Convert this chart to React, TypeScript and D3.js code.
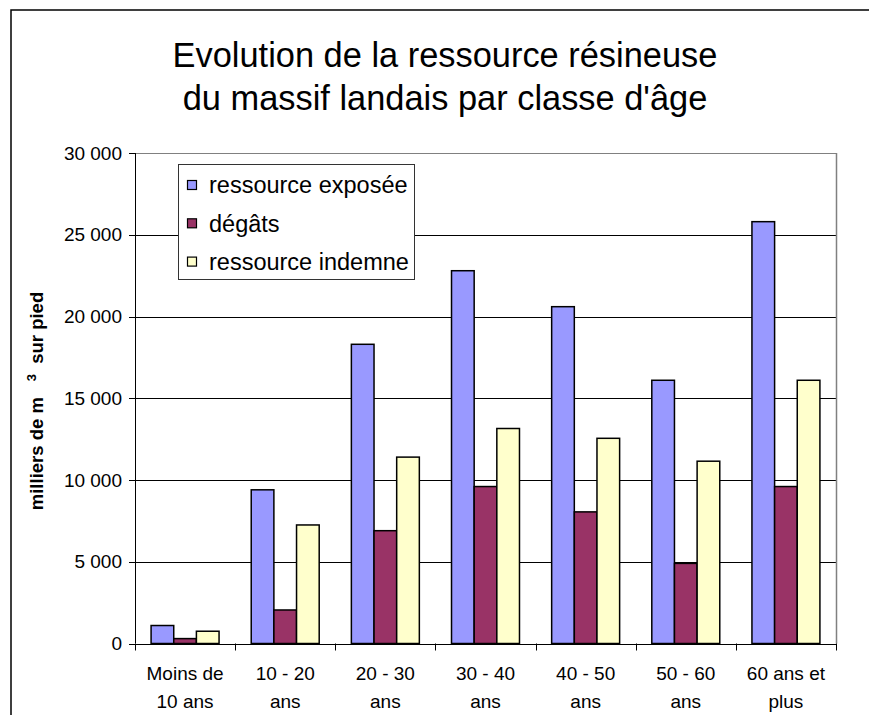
import * as d3 from "d3";

const categories = [
  ["Moins de", "10 ans"],
  ["10 - 20", "ans"],
  ["20 - 30", "ans"],
  ["30 - 40", "ans"],
  ["40 - 50", "ans"],
  ["50 - 60", "ans"],
  ["60 ans et", "plus"],
];

const seriesNames = ["ressource exposée", "dégâts", "ressource indemne"];
const seriesColors = ["#9999FF", "#993366", "#FFFFCC"];

const exposee = [1100, 9400, 18300, 22800, 20600, 16100, 25800];
const degats = [300, 2050, 6900, 9600, 8050, 4900, 9600];
const indemne = [750, 7250, 11400, 13150, 12550, 11150, 16100];

const yTicks = [0, 5000, 10000, 15000, 20000, 25000, 30000];

const width = 869;
const height = 715;
const plot = { left: 135, right: 836, top: 153, bottom: 643.5 };

const font = "'Liberation Sans', Arial, sans-serif";

export default function App() {
  const series = [exposee, degats, indemne];
  const idx = categories.map((_, i) => String(i));

  const x = d3
    .scaleBand()
    .domain(idx)
    .range([plot.left, plot.right])
    .paddingInner(0)
    .paddingOuter(0);
  // bars of one group touch each other, with space left and right
  const inner = d3
    .scaleBand()
    .domain(["0", "1", "2"])
    .range([0, x.bandwidth()])
    .paddingInner(0)
    .paddingOuter(0.71);
  const y = d3.scaleLinear().domain([0, 30000]).range([plot.bottom, plot.top]);

  const fmt = (v: number) => d3.format(",")(v).replace(/,/g, " ");

  return (
    <svg
      width={width}
      height={height}
      style={{ position: "absolute", left: 0, top: 0, background: "#fff" }}
      fontFamily={font}
    >
      <rect x={11} y={10} width={900} height={800} fill="none" stroke="#000" strokeWidth={1.5} />

      <text x={445} y={67} textAnchor="middle" fontSize={34.4}>
        Evolution de la ressource résineuse
      </text>
      <text x={445} y={110} textAnchor="middle" fontSize={34.4}>
        du massif landais par classe d'âge
      </text>

      {/* grid */}
      {yTicks.map((t) => (
        <line
          key={"g" + t}
          x1={plot.left}
          x2={plot.right}
          y1={Math.round(y(t)) + 0.5}
          y2={Math.round(y(t)) + 0.5}
          stroke={t === 30000 ? "#808080" : "#000"}
          strokeWidth={1}
        />
      ))}
      <line
        x1={plot.right + 0.5}
        x2={plot.right + 0.5}
        y1={plot.top}
        y2={plot.bottom}
        stroke="#808080"
        strokeWidth={1.5}
      />

      {/* bars */}
      {series.map((vals, s) =>
        vals.map((v, i) => (
          <rect
            key={s + "-" + i}
            x={(x(String(i)) as number) + (inner(String(s)) as number)}
            y={y(v)}
            width={inner.bandwidth()}
            height={plot.bottom - y(v)}
            fill={seriesColors[s]}
            stroke="#000"
            strokeWidth={1.5}
          />
        ))
      )}

      {/* y axis */}
      <line x1={plot.left + 0.5} x2={plot.left + 0.5} y1={plot.top} y2={plot.bottom} stroke="#000" />
      {yTicks.map((t) => (
        <g key={"y" + t}>
          <line
            x1={plot.left - 6}
            x2={plot.left}
            y1={Math.round(y(t)) + 0.5}
            y2={Math.round(y(t)) + 0.5}
            stroke="#000"
          />
          <text x={122} y={y(t)} dy="0.35em" textAnchor="end" fontSize={19}>
            {fmt(t)}
          </text>
        </g>
      ))}

      {/* x axis */}
      <line x1={plot.left} x2={plot.right} y1={Math.round(plot.bottom) + 0.5} y2={Math.round(plot.bottom) + 0.5} stroke="#000" />
      {idx.concat([String(categories.length)]).map((k) => {
        const xx = k === String(categories.length) ? plot.right : (x(k) as number);
        return (
          <line
            key={"xt" + k}
            x1={Math.round(xx) + 0.5}
            x2={Math.round(xx) + 0.5}
            y1={plot.bottom}
            y2={plot.bottom + 7}
            stroke="#000"
          />
        );
      })}
      {categories.map((c, i) => (
        <text
          key={"xl" + i}
          x={(x(String(i)) as number) + x.bandwidth() / 2}
          y={680}
          textAnchor="middle"
          fontSize={19}
        >
          <tspan x={(x(String(i)) as number) + x.bandwidth() / 2}>{c[0]}</tspan>
          <tspan x={(x(String(i)) as number) + x.bandwidth() / 2} dy={28}>
            {c[1]}
          </tspan>
        </text>
      ))}

      {/* y title */}
      <text
        transform="translate(43,401) rotate(-90)"
        textAnchor="middle"
        fontSize={18.5}
        fontWeight="bold"
      >
        milliers de m
        <tspan dx={16} dy={-7} fontSize={13}>
          3
        </tspan>
        <tspan dx={5} dy={7}>
          {" "}sur pied
        </tspan>
      </text>

      {/* legend */}
      <rect x={178.5} y={164.5} width={236} height={115} fill="#fff" stroke="#333" strokeWidth={1} />
      {seriesNames.map((n, s) => (
        <g key={"lg" + s} transform={`translate(0,${185 + s * 38.3})`}>
          <rect x={187.5} y={-4.5} width={9} height={9} fill={seriesColors[s]} stroke="#000" strokeWidth={1.2} />
          <text x={209} y={0} dy="0.35em" fontSize={23.5}>
            {n}
          </text>
        </g>
      ))}
    </svg>
  );
}
